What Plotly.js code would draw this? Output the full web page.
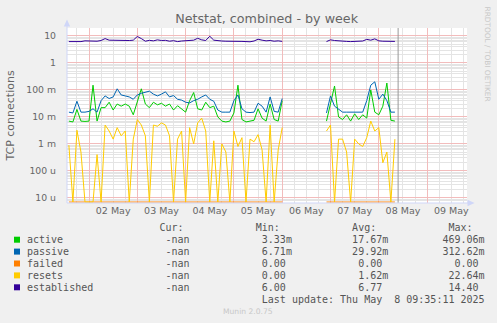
<!DOCTYPE html>
<html><head><meta charset="utf-8">
<script src="https://cdn.plot.ly/plotly-3.0.1.min.js"></script>
<style>html,body{margin:0;padding:0;background:#F0F0F0;}#chart{width:497px;height:323px;}</style>
</head><body><div id="chart"></div>
<script>
// ---- data (2-hour samples starting 2025-05-01 14:00, null = no data) ----
const startTime = '2025-05-01T14:00:00Z';
const stepMs = 2 * 3600 * 1000;

const established = [
  6.2, 6.1, 6.4, 6.2, 6.6, 6.5, 6.3, 6.4, 6.8, 8.0, 7.0, 6.9, 7.1, 6.8,
  6.5, 6.8, 7.0, 9.6, 8.0, 6.4, 6.9, 6.6, 7.2, 6.8, 6.9, 6.4, 6.7, 6.2, 6.5,
  6.6, 6.9, 7.0, 8.2, 7.2, 6.8, 9.8, 7.0, 6.6, 6.5, 6.4, 6.3, 6.1, 6.4,
  6.3, 6.2, 6.1, 6.5, 7.6, 7.0, 6.6, 6.8, 6.4, 6.6, 6.3,
  null, null, null, null, null, null, null, null, null, null,
  6.2, 7.2, 6.8, 6.5, 6.6, 6.3, 6.2, 6.3, 6.4, 6.5, 7.5, 7.0, 7.8, 6.6, 6.4, 6.3, 6.2, 6.3
];
// milli-connections
const activeMilli = [
  7, 6.5, 19, 7, 6.8, 7, 150, 7, 22, 22, 35, 18, 30, 25,
  30, 25, 12, 35, 110, 30, 22, 35, 28, 32, 25, 30, 18, 26, 20,
  15, 40, 80, 20, 18, 35, 22, 25, 10, 7, 6.5, 7, 14, 150,
  8, 6.5, 7, 7.5, 20, 9, 7, 30, 8, 7, 40,
  null, null, null, null, null, null, null, null, null, null,
  7, 35, 140, 10, 8, 12, 7, 13, 8, 12, 9, 100, 15, 12, 25, 180, 7.5, 7
];
const passiveMilli = [
  15, 14, 38, 15, 15, 16, 20, 15, 40, 60, 48, 55, 110, 65,
  60, 55, 45, 65, 75, 80, 90, 70, 60, 70, 85, 55, 62, 45, 42,
  35, 33, 40, 45, 55, 65, 45, 38, 18, 15, 15, 15, 40, 65,
  20, 15, 14.5, 15, 32, 25, 15, 55, 16, 15, 48,
  null, null, null, null, null, null, null, null, null, null,
  14, 60, 25, 20, 15, 15, 15, 15, 15, 15, 40, 150, 200, 45, 70, 40, 15, 15
];
const failedMilli = [
  0, 0, 0, 0, 0, 0, 0, 0, 0, 0, 0, 0, 0, 0,
  0, 0, 0, 0, 0, 0, 0, 0, 0, 0, 0, 0, 0, 0, 0,
  0, 0, 0, 0, 0, 0, 0, 0, 0, 0, 0, 0, 0, 0,
  0, 0, 0, 0, 0, 0, 0, 0, 0, 0, 0,
  null, null, null, null, null, null, null, null, null, null,
  0, 0, 0, 0, 0, 0, 0, 0, 0, 0, 0, 0, 0, 0, 0, 0, 0, 0
];
const resetsMilli = [
  0.9, 0, 3.2, 0.5, 0, 0, 0, 0.4, 0, 5, 3, 1.5, 4, 2,
  3, 0, 1.5, 8, 5, 2, 0, 5, 4.5, 6, 5, 2, 0, 1.5, 3,
  0, 4, 1, 6, 9, 3, 0, 1.3, 0, 1, 0.5, 0, 3, 0.8,
  1.7, 0, 1.5, 1.2, 2.2, 0.6, 0, 5, 0, 0.6, 4,
  null, null, null, null, null, null, null, null, null, null,
  3, 5, 0, 1.5, 1.5, 0.5, 0, 1.5, 1, 0.8, 1.7, 7, 3, 4, 0.2, 0.5, 0, 1.5
];

const seriesNames  = ['active', 'passive', 'failed', 'resets', 'established'];
const seriesColors = ['#00CC00', '#0066B3', '#FF8000', '#FFCC00', '#330099'];
const curVals = ['-nan', '-nan', '-nan', '-nan', '-nan'];
const minVals = ['3.33m', '6.71m', '0.00', '0.00', '6.00'];
const avgVals = ['17.67m', '29.92m', '0.00', '1.62m', '6.77'];
const maxVals = ['469.06m', '312.62m', '0.00', '22.64m', '14.40'];
const yTickVals = [1e-5, 1e-4, 1e-3, 1e-2, 1e-1, 1, 10];
const yTickText = ['10 u', '100 u', '1 m', '10 m', '100 m', '1', '10'];
const lastUpdateText = 'Last update: Thu May  8 09:35:11 2025';
const lastUpdateTime = '2025-05-08 09:35:11';

// ---- geometry helpers ----
const L = 67, R = 467, T = 28, B = 203, W = 497, H = 323;
const px = x => (x - L) / (R - L);
const py = y => (B - y) / (B - T);

const t0 = Date.parse(startTime);
const times = established.map((_, i) => new Date(t0 + i * stepMs).toISOString().slice(0, 19).replace('T', ' '));

const FLOOR = 7e-6; // zero values drawn along the bottom edge (log axis)
const scaleMilli = arr => arr.map(v => v === null ? null : (v > 0 ? v * 1e-3 : FLOOR));
const scaleUnit = arr => arr.map(v => v === null ? null : (v > 0 ? v : FLOOR));

const ys = [scaleMilli(activeMilli), scaleMilli(passiveMilli), scaleMilli(failedMilli), scaleMilli(resetsMilli), scaleUnit(established)];
const traces = ys.map((y, k) => ({
  type: 'scatter', mode: 'lines', x: times, y: y, name: seriesNames[k],
  line: { color: seriesColors[k], width: 1 }, connectgaps: false, hoverinfo: 'skip'
}));

// minor y grid (2..9 per decade)
const yMinor = [];
for (let d = -6; d <= 1; d++) for (let k = 2; k <= 9; k++) yMinor.push(k * Math.pow(10, d));

// ---- legend table text (monospace columns) ----
const NB = '\u00A0';
function makeRow(parts) {
  const buf = new Array(78).fill(' ');
  parts.forEach(([s, c]) => { for (let i = 0; i < s.length; i++) buf[c + i] = s[i]; });
  return buf.join('').replace(/\s+$/, '').replace(/ /g, NB);
}
function numAt(s, endCol) {
  const m = s.match(/^([-0-9.]+)([a-z]?)$/);
  const num = m ? m[1] : s, suf = m ? m[2] : '';
  return [num + suf, endCol - num.length];
}
const monoFont = { family: 'DejaVu Sans Mono', size: 10, color: '#555555' };
const textX0 = 26.3;
const rowY = [239.7, 251.6, 263.5, 275.4, 287.3];
const annotations = [];
annotations.push({ xref: 'paper', yref: 'paper', x: px(textX0), y: py(227.5), xanchor: 'left', yanchor: 'middle',
  text: makeRow([['Cur:', 22], ['Min:', 38], ['Avg:', 54], ['Max:', 70]]), showarrow: false, font: monoFont, borderpad: 0 });
seriesNames.forEach((n, k) => {
  annotations.push({ xref: 'paper', yref: 'paper', x: px(textX0), y: py(rowY[k]), xanchor: 'left', yanchor: 'middle',
    text: makeRow([[n, 0], [curVals[k], 27 - curVals[k].length], numAt(minVals[k], 43), numAt(avgVals[k], 59), numAt(maxVals[k], 75)]),
    showarrow: false, font: monoFont, borderpad: 0 });
});
annotations.push({ xref: 'paper', yref: 'paper', x: px(textX0), y: py(299.3), xanchor: 'left', yanchor: 'middle',
  text: makeRow([[lastUpdateText, 39]]), showarrow: false, font: monoFont, borderpad: 0 });
annotations.push({ xref: 'paper', yref: 'paper', x: px(248), y: py(311.7), xanchor: 'center', yanchor: 'middle',
  text: 'Munin 2.0.75', showarrow: false, font: { family: 'DejaVu Sans', size: 7.6, color: '#C8C8C8' }, borderpad: 0 });
annotations.push({ xref: 'paper', yref: 'paper', x: px(487), y: py(53.5), xanchor: 'center', yanchor: 'middle',
  text: 'RRDTOOL / TOBI OETIKER', textangle: 90, showarrow: false, font: { family: 'DejaVu Sans', size: 7.4, color: '#C8C8C8' }, borderpad: 0 });

// ---- shapes: legend swatches, axis arrows, now-line ----
const shapes = [];
seriesColors.forEach((c, k) => {
  shapes.push({ type: 'rect', xref: 'paper', yref: 'paper', x0: px(14), x1: px(20), y0: py(rowY[k] + 3), y1: py(rowY[k] - 3),
    fillcolor: c, line: { width: 0 } });
});
const axisCol = '#CFD6F8';
shapes.push({ type: 'line', xref: 'x', yref: 'paper', x0: lastUpdateTime, x1: lastUpdateTime, y0: 0, y1: 1, line: { color: '#999999', width: 1 } });
shapes.push({ type: 'line', xref: 'paper', yref: 'paper', x0: px(67), x1: px(67), y0: py(203), y1: py(24), line: { color: axisCol, width: 1 } });
shapes.push({ type: 'line', xref: 'paper', yref: 'paper', x0: px(67), x1: px(470), y0: py(203), y1: py(203), line: { color: axisCol, width: 1 } });
shapes.push({ type: 'path', xref: 'paper', yref: 'paper', fillcolor: axisCol, line: { width: 0 },
  path: `M ${px(67)} ${py(19.5)} L ${px(63.8)} ${py(26.5)} L ${px(70.2)} ${py(26.5)} Z` });
shapes.push({ type: 'path', xref: 'paper', yref: 'paper', fillcolor: axisCol, line: { width: 0 },
  path: `M ${px(474.5)} ${py(203)} L ${px(467.5)} ${py(199.8)} L ${px(467.5)} ${py(206.2)} Z` });

const majorGrid = '#F2BCBC', minorGrid = '#E4E4E4';
const layout = {
  width: W, height: H,
  paper_bgcolor: '#F0F0F0', plot_bgcolor: '#FFFFFF',
  margin: { l: L, r: W - R, t: T, b: H - B, pad: 0 },
  font: { family: 'DejaVu Sans', color: '#666666' },
  showlegend: false,
  title: { text: 'Netstat, combined - by week', x: 248 / W, xanchor: 'center', xref: 'paper',
    y: 1 - 19 / H, yanchor: 'middle', yref: 'container',
    font: { family: 'DejaVu Sans', size: 12.7, color: '#666666' } },
  xaxis: {
    type: 'date', range: ['2025-05-01 13:04:00', '2025-05-09 19:49:00'],
    tickmode: 'linear', tick0: '2025-05-02 00:00:00', dtick: 86400000,
    ticklabelmode: 'period', tickformat: '%d %b', ticks: '',
    tickfont: { family: 'DejaVu Sans', size: 9.5, color: '#666666' },
    showgrid: true, gridcolor: majorGrid, gridwidth: 1,
    minor: { tickmode: 'linear', tick0: '2025-05-02 00:00:00', dtick: 21600000, showgrid: true, gridcolor: minorGrid, gridwidth: 1 },
    showline: false, zeroline: false, fixedrange: true
  },
  yaxis: {
    type: 'log', range: [-5.192, 1.296],
    tickmode: 'array', tickvals: yTickVals, ticktext: yTickText, ticks: '',
    tickfont: { family: 'DejaVu Sans', size: 9.3, color: '#666666' },
    ticklabelstandoff: 10,
    showgrid: true, gridcolor: majorGrid, gridwidth: 1,
    minor: { tickmode: 'array', tickvals: yMinor, showgrid: true, gridcolor: minorGrid, gridwidth: 1 },
    showline: false, zeroline: false, fixedrange: true,
    title: { text: 'TCP connections', font: { family: 'DejaVu Sans', size: 11, color: '#666666' }, standoff: 9 }
  },
  annotations: annotations,
  shapes: shapes
};

Plotly.newPlot('chart', traces, layout, { displayModeBar: false, staticPlot: true });
</script>
</body></html>
